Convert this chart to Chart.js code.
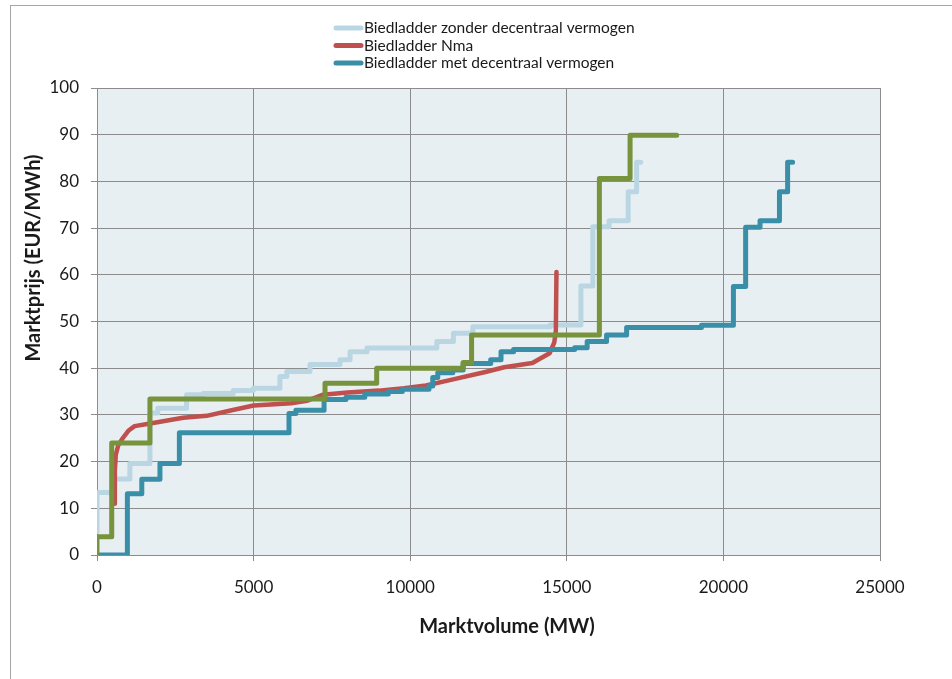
<!DOCTYPE html>
<html lang="nl">
<head>
  <meta charset="UTF-8">
  <title>Biedladders</title>
  <script src="https://cdn.jsdelivr.net/npm/chart.js"></script>
  <style>
    html, body { margin: 0; padding: 0; background: #fff; }
    #wrap { width: 952px; height: 679px; }
  </style>
</head>
<body>
  <div id="wrap"><canvas id="bidChart" width="952" height="679"></canvas></div>

  <script>
    // ticks
    const xTickValues = [0, 5000, 10000, 15000, 20000, 25000];
    const yTickValues = [0, 10, 20, 30, 40, 50, 60, 70, 80, 90, 100];

    // Biedladder zonder decentraal vermogen (step: level starts at volume)
    const zonderVolume = [0, 0, 510, 1050, 1690, 1940, 2860, 3390, 4350, 4990, 5840, 6060, 6800, 7760, 8080, 8620, 10850, 11380, 12000, 14470, 15450, 15830, 16350, 16960, 17230, 17360];
    const zonderPrice  = [5, 13.4, 16.3, 19.6, 30.4, 31.4, 34.3, 34.6, 35.2, 35.7, 38.2, 39.3, 40.8, 41.8, 43.5, 44.3, 45.7, 47.5, 48.9, 49.25, 57.6, 70.3, 71.6, 77.8, 84.1, 84.1];

    // Biedladder Nma (smooth curve)
    const nmaVolume = [570, 570, 600, 680, 820, 1000, 1200, 1650, 2750, 3500, 4300, 5000, 6200, 6700, 7200, 8000, 9000, 9800, 10500, 11300, 12400, 13000, 13900, 14450, 14600, 14650, 14670];
    const nmaPrice  = [11, 18, 21.5, 23.5, 25, 26.6, 27.6, 28.1, 29.4, 29.8, 31.0, 32.0, 32.5, 33.0, 34.3, 34.8, 35.2, 35.7, 36.3, 37.5, 39.2, 40.2, 41.1, 43.2, 45.5, 48, 60.6];

    // Biedladder met decentraal vermogen
    const metVolume = [0, 970, 1430, 2010, 2630, 6130, 6350, 7250, 7950, 8550, 9300, 9750, 10600, 10720, 10880, 11360, 11690, 12570, 12900, 13300, 15250, 15650, 16270, 16910, 19300, 20320, 20710, 21170, 21790, 22050, 22210];
    const metPrice  = [0, 13.1, 16.2, 19.6, 26.2, 30.3, 31.0, 33.3, 33.8, 34.5, 35.0, 35.5, 36.2, 38.0, 39.0, 39.6, 41.0, 41.8, 43.5, 44.0, 44.4, 45.7, 47.1, 48.7, 49.2, 57.5, 70.2, 71.6, 77.8, 84.1, 84.1];

    // groene ladder (zonder legenda)
    const greenVolume = [0, 0, 470, 1690, 7280, 8930, 11690, 11960, 16040, 17020, 18510];
    const greenPrice  = [0, 3.9, 24.0, 33.4, 36.8, 40.0, 41.2, 47.1, 80.6, 89.9, 89.9];

    function toPoints(xs, ys) {
      return xs.map((x, i) => ({ x: x, y: ys[i] }));
    }

    const gridColor = '#8c8c8c';
    const xTitle = 'Marktvolume (MW)';
    const yTitle = 'Marktprijs (EUR/MWh)';

    // white page, outer frame and plot background
    const framePlugin = {
      id: 'frame',
      beforeDraw(chart) {
        const ctx = chart.ctx;
        const a = chart.chartArea;
        ctx.save();
        ctx.fillStyle = '#ffffff';
        ctx.fillRect(0, 0, chart.width, chart.height);
        ctx.strokeStyle = '#a6a6a6';
        ctx.lineWidth = 1;
        ctx.strokeRect(10.5, 5.5, chart.width + 20, chart.height + 20);
        ctx.fillStyle = '#e8eff3';
        ctx.fillRect(a.left, a.top, a.right - a.left, a.bottom - a.top);
        ctx.restore();
      }
    };

    // legend stacked in rows (only labelled series) + axis titles, placed like the original
    const rowLegend = {
      id: 'rowLegend',
      afterDraw(chart) {
        const ctx = chart.ctx;
        const items = chart.data.datasets.filter(d => d.label);
        ctx.save();
        ctx.font = '15.5px Lato';
        ctx.textBaseline = 'middle';
        ctx.textAlign = 'left';
        items.forEach((d, i) => {
          const y = 28 + i * 17.5;
          ctx.strokeStyle = d.borderColor;
          ctx.lineWidth = 5;
          ctx.lineCap = 'round';
          ctx.beginPath();
          ctx.moveTo(336, y);
          ctx.lineTo(361, y);
          ctx.stroke();
          ctx.fillStyle = '#1a1a1a';
          ctx.fillText(d.label, 364, y);
        });

        ctx.font = 'bold 20px Lato';
        ctx.textAlign = 'center';
        ctx.fillText(xTitle, 507, 627);

        ctx.translate(34, 258);
        ctx.rotate(-Math.PI / 2);
        ctx.fillText(yTitle, 0, 0);
        ctx.restore();
      }
    };

    Chart.defaults.font.family = 'Lato';
    Chart.defaults.color = '#1a1a1a';

    new Chart(document.getElementById('bidChart'), {
      type: 'scatter',
      data: {
        datasets: [
          {
            label: 'Biedladder zonder decentraal vermogen',
            data: toPoints(zonderVolume, zonderPrice),
            borderColor: '#bad6e3',
            borderWidth: 5,
            stepped: 'before',
            order: 4
          },
          {
            label: 'Biedladder Nma',
            data: toPoints(nmaVolume, nmaPrice),
            borderColor: '#c0504d',
            borderWidth: 4.5,
            tension: 0,
            order: 3
          },
          {
            label: 'Biedladder met decentraal vermogen',
            data: toPoints(metVolume, metPrice),
            borderColor: '#3a8fa8',
            borderWidth: 5,
            stepped: 'before',
            order: 2
          },
          {
            label: '',
            data: toPoints(greenVolume, greenPrice),
            borderColor: '#77933c',
            borderWidth: 5,
            stepped: 'before',
            order: 1
          }
        ]
      },
      options: {
        responsive: false,
        animation: false,
        showLine: true,
        elements: {
          point: { radius: 0, hoverRadius: 0 },
          line: { borderCapStyle: 'round', borderJoinStyle: 'round', fill: false }
        },
        layout: { padding: { left: 0, top: 88, right: 72, bottom: 0 } },
        plugins: {
          legend: { display: false },
          tooltip: { enabled: false }
        },
        scales: {
          x: {
            type: 'linear',
            min: 0,
            max: 25000,
            afterBuildTicks: s => { s.ticks = xTickValues.map(v => ({ value: v })); },
            afterFit: s => { s.height = 124; },
            ticks: {
              callback: v => String(v),
              font: { size: 17 },
              padding: 16
            },
            grid: { color: gridColor, tickLength: 6 },
            border: { color: gridColor },
            title: { display: false }
          },
          y: {
            type: 'linear',
            min: 0,
            max: 100,
            afterBuildTicks: s => { s.ticks = yTickValues.map(v => ({ value: v })); },
            afterFit: s => { s.width = 97; },
            ticks: {
              callback: v => String(v),
              font: { size: 17 },
              padding: 12
            },
            grid: { color: gridColor, tickLength: 6 },
            border: { color: gridColor },
            title: { display: false }
          }
        }
      },
      plugins: [framePlugin, rowLegend]
    });
  </script>
</body>
</html>
